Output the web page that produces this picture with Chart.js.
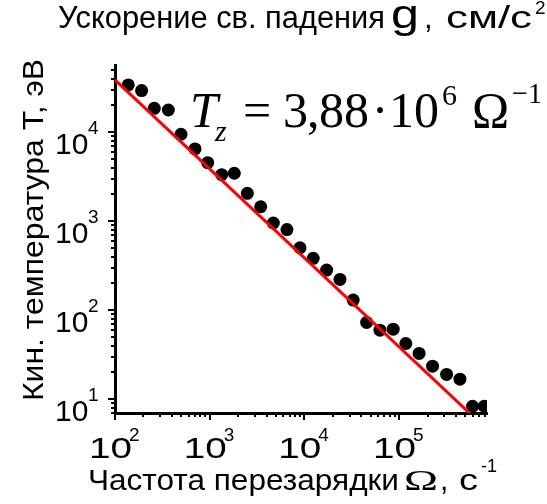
<!DOCTYPE html>
<html lang="ru">
<head>
<meta charset="UTF-8">
<title>Кинетическая температура и частота перезарядки</title>
<script src="https://cdn.jsdelivr.net/npm/chart.js@4.4.1/dist/chart.umd.min.js"></script>
<style>
    html, body { margin: 0; padding: 0; background: #fff; }
    #wrap { width: 547px; height: 504px; }
</style>
</head>
<body>
<div id="wrap"><canvas id="chart" width="547" height="504"></canvas></div>
<script>
// частота перезарядки, с^-1
var omega = [138, 191, 260, 366, 498, 700, 953, 1340, 1820, 2500, 3460, 4700, 6550, 9000,
             12400, 17200, 23800, 32800, 45500, 62900, 86800, 118000, 163000, 226000,
             318000, 440000, 598000, 794000];
// кинетическая температура, эВ
var temp = [34000, 29400, 18600, 17800, 9500, 6490, 4550, 3340, 3460, 2060, 1456, 955, 807, 504,
            383, 283, 222, 130, 72.9, 59.7, 61.3, 42.3, 32.7, 23.5,
            19.0, 16.8, 8.34, 8.34];

// аппроксимация T_z = 3,88e6 * Omega^-1
var fitCoef = 3.88e6;
var fitOmega = [100, 850000];

var xRange = [100, 850000];
var yRange = [7, 57000];
var xMajor = [1e2, 1e3, 1e4, 1e5];
var yMajor = [1e1, 1e2, 1e3, 1e4];
var xExp = ['2', '3', '4', '5'];
var yExp = ['1', '2', '3', '4'];

var SANS = '"Liberation Sans", Arial, sans-serif';
var SERIF = '"Liberation Serif", "Times New Roman", serif';

function minorValues(lo, hi) {
    var out = [];
    for (var p = Math.floor(Math.log10(lo)); p <= Math.ceil(Math.log10(hi)); p++) {
        for (var m = 2; m <= 9; m++) {
            var v = m * Math.pow(10, p);
            if (v >= lo && v <= hi) out.push(v);
        }
    }
    return out;
}

// текст с заданной шириной (растяжение по горизонтали)
function put(ctx, str, x, y, font, w) {
    ctx.font = font;
    var nat = ctx.measureText(str).width;
    var sx = w ? w / nat : 1;
    ctx.save();
    ctx.translate(x, y);
    ctx.scale(sx, 1);
    ctx.fillText(str, 0, 0);
    ctx.restore();
    return nat * sx;
}

var decor = {
    id: 'decor',
    afterDraw: function (chart) {
        var ctx = chart.ctx;
        var xs = chart.scales.x, ys = chart.scales.y;
        var area = chart.chartArea;
        ctx.save();
        ctx.fillStyle = '#000';
        ctx.strokeStyle = '#000';
        ctx.textAlign = 'left';
        ctx.textBaseline = 'alphabetic';

        // засечки
        ctx.lineWidth = 2;
        ctx.beginPath();
        xMajor.forEach(function (v) {
            var px = Math.round(xs.getPixelForValue(v));
            ctx.moveTo(px, area.bottom); ctx.lineTo(px, area.bottom + 7);
        });
        minorValues(xRange[0], xRange[1]).forEach(function (v) {
            var px = Math.round(xs.getPixelForValue(v));
            ctx.moveTo(px, area.bottom); ctx.lineTo(px, area.bottom + 4);
        });
        yMajor.forEach(function (v) {
            var py = Math.round(ys.getPixelForValue(v));
            ctx.moveTo(area.left, py); ctx.lineTo(area.left - 7, py);
        });
        minorValues(yRange[0], yRange[1]).forEach(function (v) {
            var py = Math.round(ys.getPixelForValue(v));
            ctx.moveTo(area.left, py); ctx.lineTo(area.left - 4, py);
        });
        ctx.stroke();

        // подписи делений
        xMajor.forEach(function (v, i) {
            var px = xs.getPixelForValue(v);
            put(ctx, '10', px - 26, area.bottom + 45, '30px ' + SANS, 43);
            put(ctx, xExp[i], px + 14, area.bottom + 28, '19px ' + SANS);
        });
        yMajor.forEach(function (v, i) {
            var py = ys.getPixelForValue(v);
            put(ctx, '10', area.left - 60, py + 22, '30px ' + SANS);
            put(ctx, yExp[i], area.left - 27, py + 2, '19px ' + SANS);
        });

        // заголовок сверху
        put(ctx, 'Ускорение св. падения', 58, 28, '31px ' + SANS, 327);
        put(ctx, 'g', 391, 28, '40px ' + SANS, 28);
        put(ctx, ',', 424, 28, '31px ' + SANS);
        put(ctx, 'см/с', 446, 28, '31px ' + SANS, 86);
        put(ctx, '2', 535, 14, '19px ' + SANS);

        // подпись оси X
        put(ctx, 'Частота перезарядки', 88, 490, '30px ' + SANS, 311);
        put(ctx, 'Ω', 404, 490, '30px ' + SERIF, 34);
        put(ctx, ',', 440, 490, '30px ' + SANS);
        put(ctx, 'с', 459, 490, '30px ' + SANS, 19);
        put(ctx, '-1', 481, 472, '18px ' + SANS);

        // подпись оси Y
        ctx.save();
        ctx.translate(43, 230);
        ctx.rotate(-Math.PI / 2);
        ctx.textAlign = 'center';
        ctx.font = '30px ' + SANS;
        var nat = ctx.measureText('Кин. температура Т, эВ').width;
        ctx.scale(342 / nat, 1);
        ctx.fillText('Кин. температура Т, эВ', 0, 0);
        ctx.restore();

        // формула аппроксимации
        put(ctx, 'T', 190, 127, 'italic 50px ' + SERIF);
        put(ctx, 'z', 215, 141, 'italic 30px ' + SERIF);
        put(ctx, '=', 243, 127, '50px ' + SERIF);
        put(ctx, '3', 283, 127, '50px ' + SERIF);
        put(ctx, ',', 307, 127, '50px ' + SERIF);
        put(ctx, '88', 319, 127, '50px ' + SERIF);
        ctx.textAlign = 'center';
        put(ctx, '·', 380, 127, '50px ' + SERIF);
        ctx.textAlign = 'left';
        put(ctx, '10', 389, 127, '50px ' + SERIF);
        put(ctx, '6', 442, 105, '30px ' + SERIF);
        put(ctx, 'Ω', 472, 127, '50px ' + SERIF);
        put(ctx, '\u22121', 512, 103, '30px ' + SERIF, 30);

        ctx.restore();
    }
};

new Chart(document.getElementById('chart'), {
    type: 'scatter',
    data: {
        datasets: [
            {
                type: 'line',
                data: fitOmega.map(function (o) { return { x: o, y: fitCoef / o }; }),
                borderColor: '#ff0000',
                borderWidth: 3,
                pointRadius: 0,
                fill: false,
                clip: 0
            },
            {
                data: omega.map(function (o, i) { return { x: o, y: temp[i] }; }),
                backgroundColor: '#000',
                borderColor: '#000',
                borderWidth: 0,
                pointRadius: 6.5,
                clip: 0
            }
        ]
    },
    options: {
        responsive: false,
        animation: false,
        events: [],
        layout: { autoPadding: false, padding: { left: 115, right: 60, top: 65, bottom: 91 } },
        plugins: { legend: { display: false }, tooltip: { enabled: false } },
        scales: {
            x: {
                type: 'logarithmic', min: xRange[0], max: xRange[1],
                grid: { display: false, drawTicks: false },
                ticks: { display: false },
                border: { display: true, color: '#000', width: 3 }
            },
            y: {
                type: 'logarithmic', min: yRange[0], max: yRange[1],
                grid: { display: false, drawTicks: false },
                ticks: { display: false },
                border: { display: true, color: '#000', width: 3 }
            }
        }
    },
    plugins: [decor]
});
</script>
</body>
</html>
